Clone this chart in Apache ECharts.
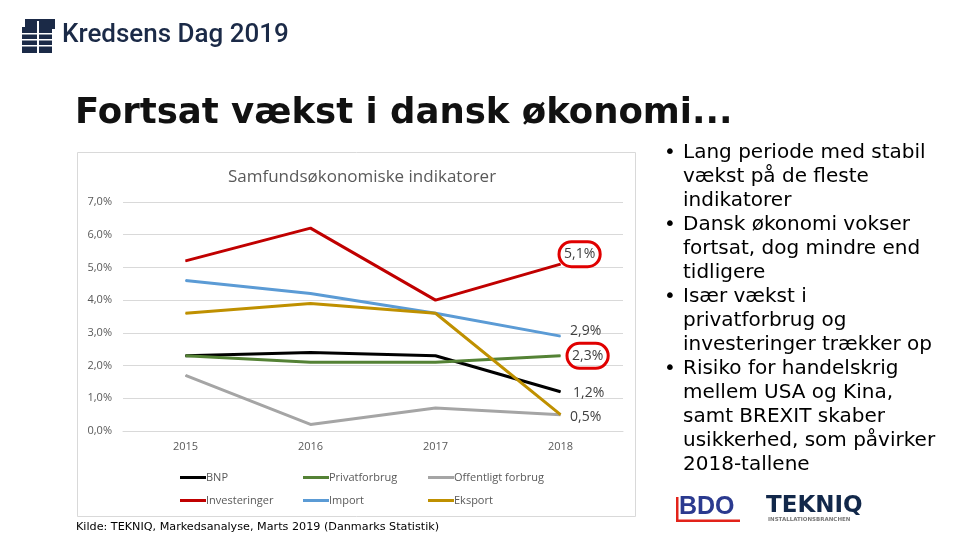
<!DOCTYPE html>
<html>
<head>
<meta charset="utf-8">
<script src="https://cdn.jsdelivr.net/npm/echarts@6/dist/echarts.min.js"></script>
<style>
  html, body { margin: 0; padding: 0; background: #fff; }
  #slide { width: 960px; height: 540px; }
</style>
</head>
<body>
<div id="slide"></div>
<script>
  // data
  const years = ['2015', '2016', '2017', '2018'];
  const bnp = [2.3, 2.4, 2.3, 1.2];
  const privatforbrug = [2.3, 2.1, 2.1, 2.3];
  const offentligtForbrug = [1.7, 0.2, 0.7, 0.5];
  const investeringer = [5.2, 6.2, 4.0, 5.1];
  const importVals = [4.6, 4.2, 3.6, 2.9];
  const eksport = [3.6, 3.9, 3.6, 0.5];
  const yMin = 0, yMax = 7, yStep = 1;
  const legendRows = [
    ['BNP', 'Privatforbrug', 'Offentligt forbrug'],
    ['Investeringer', 'Import', 'Eksport']
  ];

  const bullets = [
    ['Lang periode med stabil', 'vækst på de fleste', 'indikatorer'],
    ['Dansk økonomi vokser', 'fortsat, dog mindre end', 'tidligere'],
    ['Især vækst i', 'privatforbrug og', 'investeringer trækker op'],
    ['Risiko for handelskrig', 'mellem USA og Kina,', 'samt BREXIT skaber', 'usikkerhed, som påvirker', '2018-tallene']
  ];

  const pct = v => v.toFixed(1).replace('.', ',') + '%';
  const chartFont = 'Open Sans';

  // label only the last point; circled ones get a red ring
  function lastLabel(arr, circled, dx, dy) {
    return arr.map((v, i) => {
      if (i !== arr.length - 1) return v;
      const lab = {
        show: true, position: 'right', distance: 4,
        formatter: p => pct(p.value), color: '#404040', fontSize: 14,
        fontFamily: chartFont, offset: [dx, dy]
      };
      if (circled) {
        lab.borderColor = '#e00000'; lab.borderWidth = 3;
        lab.borderRadius = 14; lab.padding = [6, 5, 5, 5];
      }
      return { value: v, label: lab };
    });
  }

  function line(name, data, color) {
    return {
      name: name, type: 'line', data: data,
      symbol: 'circle', symbolSize: 1, showSymbol: true, smooth: false,
      lineStyle: { color: color, width: 3 }, itemStyle: { color: color },
      emphasis: { disabled: true }, z: 3
    };
  }

  // bullet text as graphic elements
  const bulletGraphics = [];
  let lineNo = 0;
  bullets.forEach(b => {
    b.forEach((t, j) => {
      const y = 154 + lineNo * 24;
      if (j === 0) {
        bulletGraphics.push({ type: 'text', left: 664, top: y - 11,
          style: { text: '•', font: '20px "DejaVu Sans"', fill: '#000' } });
      }
      bulletGraphics.push({ type: 'text', left: 683, top: y - 11,
        style: { text: t, font: '20px "DejaVu Sans"', fill: '#000' } });
      lineNo++;
    });
  });

  // one legend per item so the columns line up like the original
  const colX = [175, 298, 423];
  const rowY = [467, 490];
  const legends = [];
  legendRows.forEach((row, r) => {
    row.forEach((name, c) => {
      legends.push({
        data: [name], left: colX[c], top: rowY[r], icon: 'rect',
        itemWidth: 26, itemHeight: 3, itemGap: 0, selectedMode: false,
        textStyle: { color: '#595959', fontSize: 11, fontFamily: chartFont, padding: [0, 0, 0, -5] }
      });
    });
  });

  const myChart = echarts.init(document.getElementById('slide'));
  const option = {
    animation: false,
    backgroundColor: '#fff',
    title: {
      text: 'Samfundsøkonomiske indikatorer',
      left: 357, top: 164, textAlign: 'center',
      textStyle: { color: '#595959', fontSize: 17, fontWeight: 'normal', fontFamily: chartFont }
    },
    legend: legends,
    grid: { left: 123, right: 337, top: 202, bottom: 109, containLabel: false },
    xAxis: {
      type: 'category', data: years, boundaryGap: true,
      axisLine: { lineStyle: { color: '#d9d9d9' } },
      axisTick: { show: false },
      axisLabel: { color: '#595959', fontSize: 11, fontFamily: chartFont, margin: 10 }
    },
    yAxis: {
      type: 'value', min: yMin, max: yMax, interval: yStep,
      axisLine: { show: false }, axisTick: { show: false },
      splitLine: { lineStyle: { color: '#d9d9d9' } },
      axisLabel: { color: '#595959', fontSize: 11, fontFamily: chartFont, margin: 11, formatter: v => pct(v) }
    },
    series: [
      line('BNP', lastLabel(bnp, false, 8, 1), '#000000'),
      line('Privatforbrug', lastLabel(privatforbrug, true, 2, 0), '#548235'),
      line('Offentligt forbrug', offentligtForbrug, '#a5a5a5'),
      line('Investeringer', lastLabel(investeringer, true, -6, -10), '#c00000'),
      line('Import', lastLabel(importVals, false, 5, -5), '#5b9bd5'),
      line('Eksport', lastLabel(eksport, false, 5, 2), '#bf9000')
    ],
    graphic: [
      // chart frame
      { type: 'rect', shape: { x: 77.5, y: 152.5, width: 558, height: 364 },
        style: { fill: '#fff', stroke: '#d9d9d9', lineWidth: 1 }, z: -10 },
      // top logo: stacked notes icon
      { type: 'group', left: 22, top: 19, children: [
        { type: 'rect', shape: { x: 0, y: 8, width: 30, height: 26 }, style: { fill: '#1b2a47' } },
        { type: 'rect', shape: { x: 3, y: 0, width: 30, height: 10 }, style: { fill: '#1b2a47' } },
        { type: 'rect', shape: { x: 0, y: 14, width: 30, height: 1.5 }, style: { fill: '#fff' } },
        { type: 'rect', shape: { x: 0, y: 20, width: 30, height: 1.5 }, style: { fill: '#fff' } },
        { type: 'rect', shape: { x: 0, y: 26, width: 30, height: 1.5 }, style: { fill: '#fff' } },
        { type: 'rect', shape: { x: 15, y: 2, width: 2, height: 32 }, style: { fill: '#fff' } }
      ] },
      { type: 'text', left: 62, top: 22,
        style: { text: 'Kredsens Dag 2019', font: '500 26px Roboto', fill: '#1b2a47' } },
      // slide title
      { type: 'text', left: 75, top: 96,
        style: { text: 'Fortsat vækst i dansk økonomi...', font: 'bold 35.5px "DejaVu Sans"', fill: '#111' } },
      // source
      { type: 'text', left: 76, top: 522,
        style: { text: 'Kilde: TEKNIQ, Markedsanalyse, Marts 2019 (Danmarks Statistik)', font: '11.2px "DejaVu Sans"', fill: '#000' } },
      // BDO logo
      { type: 'rect', shape: { x: 676, y: 497, width: 2.5, height: 25 }, style: { fill: '#e2231a' } },
      { type: 'rect', shape: { x: 676, y: 519.5, width: 64, height: 2.5 }, style: { fill: '#e2231a' } },
      { type: 'text', left: 679, top: 495,
        style: { text: 'BDO', font: 'bold 25px "Liberation Sans"', fill: '#2b3a8f' } },
      // TEKNIQ logo
      { type: 'text', left: 766, top: 495,
        style: { text: 'TEKNIQ', font: '900 23px "DejaVu Sans"', fill: '#12284a' } },
      { type: 'text', left: 768, top: 517,
        style: { text: 'INSTALLATIONSBRANCHEN', font: 'bold 5.5px "DejaVu Sans"', fill: '#777' } }
    ].concat(bulletGraphics)
  };
  myChart.setOption(option);
</script>
</body>
</html>
